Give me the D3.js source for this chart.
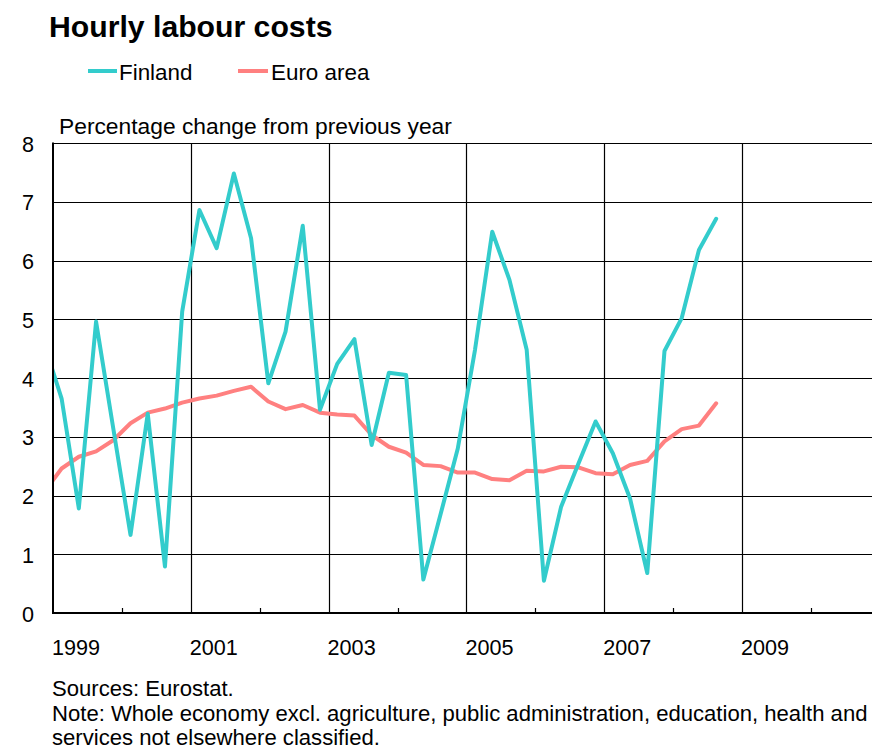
<!DOCTYPE html>
<html>
<head>
<meta charset="utf-8">
<script src="https://cdn.jsdelivr.net/npm/d3@7"></script>
<style>
  html, body { margin: 0; padding: 0; background: #fff; }
  svg { display: block; font-family: "Liberation Sans", Arial, sans-serif; }
</style>
</head>
<body>
<svg id="chart" width="872" height="749"></svg>
<script>
// ---- Data (quarterly, % change from previous year) ----
const quarters = ["1998Q4",
  "1999Q1","1999Q2","1999Q3","1999Q4",
  "2000Q1","2000Q2","2000Q3","2000Q4",
  "2001Q1","2001Q2","2001Q3","2001Q4",
  "2002Q1","2002Q2","2002Q3","2002Q4",
  "2003Q1","2003Q2","2003Q3","2003Q4",
  "2004Q1","2004Q2","2004Q3","2004Q4",
  "2005Q1","2005Q2","2005Q3","2005Q4",
  "2006Q1","2006Q2","2006Q3","2006Q4",
  "2007Q1","2007Q2","2007Q3","2007Q4",
  "2008Q1","2008Q2","2008Q3"];
const finland = [4.57,
  3.65, 1.78, 4.96, 3.14,
  1.33, 3.39, 0.79, 5.13,
  6.86, 6.21, 7.48, 6.38,
  3.91, 4.79, 6.59, 3.46,
  4.24, 4.66, 2.86, 4.09,
  4.05, 0.57, 1.68, 2.80,
  4.48, 6.49, 5.67, 4.48,
  0.55, 1.81, 2.54, 3.26,
  2.72, 1.95, 0.68, 4.46,
  5.02, 6.18, 6.71];
const euroArea = [2.06,
  2.46, 2.66, 2.75, 2.94,
  3.23, 3.41, 3.48, 3.58,
  3.65, 3.70, 3.78, 3.85,
  3.60, 3.47, 3.54, 3.41,
  3.38, 3.36, 3.03, 2.83,
  2.73, 2.52, 2.50, 2.39,
  2.39, 2.28, 2.26, 2.42,
  2.41, 2.49, 2.48, 2.38,
  2.36, 2.52, 2.59, 2.92,
  3.13, 3.19, 3.57];
const yearLabels = [1999, 2001, 2003, 2005, 2007, 2009];
const minorYears = [2000, 2002, 2004, 2006, 2008, 2010];
const yTicks = [0, 1, 2, 3, 4, 5, 6, 7, 8];
const seriesNames = ["Finland", "Euro area"];
const seriesColors = ["#33CCCC", "#FF8080"];

const chartTitle = "Hourly labour costs";
const yTitle = "Percentage change from previous year";
const footer = ["Sources: Eurostat.",
  "Note: Whole economy excl. agriculture, public administration, education, health and",
  "services not elsewhere classified."];

// ---- Layout ----
const W = 872;
const plotLeft = 53, plotTop = 143, plotBottom = 613;
const svg = d3.select("#chart");

// quarter label -> time at middle of the quarter
const qTime = q => +q.slice(0, 4) + (+q.slice(5) - 0.5) / 4;

const x = d3.scaleLinear().domain([1999, 2011]).range([plotLeft, plotLeft + 12 * 68.9]);
const y = d3.scaleLinear().domain([0, 8]).range([plotBottom, plotTop]);

// Title
svg.append("text").attr("x", 49).attr("y", 37)
  .attr("font-size", 30.2).attr("font-weight", "bold").attr("fill", "#000")
  .text(chartTitle);

// Legend
const legX = [[88, 117, 119], [238, 268, 271]];
seriesNames.forEach((n, i) => {
  svg.append("line").attr("x1", legX[i][0]).attr("x2", legX[i][1])
    .attr("y1", 71).attr("y2", 71)
    .attr("stroke", seriesColors[i]).attr("stroke-width", 4);
  svg.append("text").attr("x", legX[i][2]).attr("y", 80)
    .attr("font-size", 22.4).attr("fill", "#000").text(n);
});

// Y title
svg.append("text").attr("x", 59).attr("y", 134)
  .attr("font-size", 22.8).attr("fill", "#000").text(yTitle);

// Horizontal gridlines
svg.append("g").selectAll("line").data(yTicks.filter(d => d > 0)).join("line")
  .attr("x1", plotLeft).attr("x2", W)
  .attr("y1", d => Math.round(y(d)) + 0.5).attr("y2", d => Math.round(y(d)) + 0.5)
  .attr("stroke", "#000").attr("stroke-width", 1.2);

// Vertical gridlines at odd years
svg.append("g").selectAll("line").data(yearLabels.filter(d => d > 1999)).join("line")
  .attr("x1", d => Math.round(x(d)) + 0.5).attr("x2", d => Math.round(x(d)) + 0.5)
  .attr("y1", plotTop).attr("y2", plotBottom)
  .attr("stroke", "#000").attr("stroke-width", 1.2);

// Minor ticks at even years
svg.append("g").selectAll("line").data(minorYears).join("line")
  .attr("x1", d => Math.round(x(d)) + 0.5).attr("x2", d => Math.round(x(d)) + 0.5)
  .attr("y1", plotBottom).attr("y2", plotBottom - 5)
  .attr("stroke", "#000").attr("stroke-width", 1.2);

// Y tick labels
const yAxis = svg.append("g").attr("transform", `translate(${plotLeft},0)`)
  .call(d3.axisLeft(y).tickValues(yTicks).tickSize(0).tickPadding(19).tickFormat(d3.format("d")));
yAxis.select(".domain").remove();
yAxis.selectAll("text").attr("font-size", 21.6).attr("fill", "#000")
  .attr("font-family", "Liberation Sans, Arial, sans-serif").attr("dy", "0.38em");

// X labels
const xAxis = svg.append("g").attr("transform", `translate(0,${plotBottom})`)
  .call(d3.axisBottom(x).tickValues(yearLabels).tickSize(0).tickPadding(27).tickFormat(d3.format("d")));
xAxis.select(".domain").remove();
xAxis.selectAll("text").attr("font-size", 21.6).attr("fill", "#000")
  .attr("font-family", "Liberation Sans, Arial, sans-serif")
  .attr("text-anchor", "start").attr("dx", -1.5);

// Lines (clipped to plot area)
svg.append("clipPath").attr("id", "plotClip").append("rect")
  .attr("x", plotLeft).attr("y", 0).attr("width", W - plotLeft).attr("height", plotBottom);

const line = d3.line().x(d => x(d.t)).y(d => y(d.v));
const seriesData = [finland, euroArea];
const lineG = svg.append("g").attr("clip-path", "url(#plotClip)");
// draw Euro first, then Finland on top
[1, 0].forEach(i => {
  const pts = quarters.map((q, j) => ({ t: qTime(q), v: seriesData[i][j] }));
  lineG.append("path").datum(pts).attr("d", line)
    .attr("fill", "none").attr("stroke", seriesColors[i]).attr("stroke-width", 4)
    .attr("stroke-linejoin", "round").attr("stroke-linecap", "round");
});

// Axes lines
svg.append("line").attr("x1", plotLeft).attr("x2", plotLeft).attr("y1", plotTop - 0.5).attr("y2", plotBottom + 1)
  .attr("stroke", "#000").attr("stroke-width", 2);
svg.append("line").attr("x1", plotLeft - 1).attr("x2", W).attr("y1", plotBottom).attr("y2", plotBottom)
  .attr("stroke", "#000").attr("stroke-width", 2);

// Footer
const fy = [696, 721, 745];
footer.forEach((t, i) => {
  svg.append("text").attr("x", 52).attr("y", fy[i])
    .attr("font-size", 22.1).attr("fill", "#000").text(t);
});
</script>
</body>
</html>
